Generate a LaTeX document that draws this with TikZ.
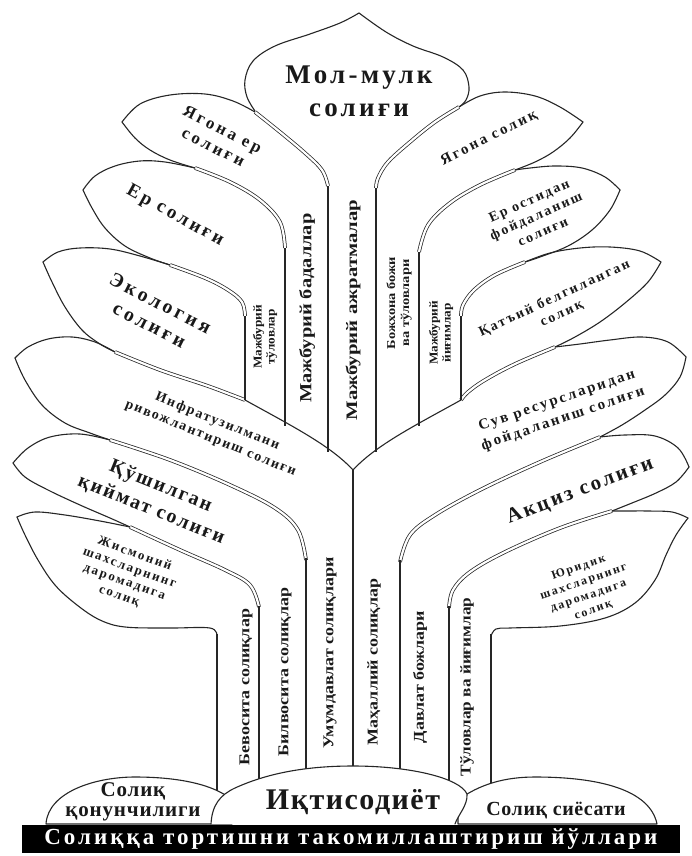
\documentclass[tikz,border=0pt]{standalone}
\usepackage{fontspec}
\setmainfont{Liberation Serif}
\begin{document}
\begin{tikzpicture}[x=1pt,y=-1pt,
  leaf/.style={line width=1.1pt, line join=round, line cap=round, black!85},
  dbl/.style={double, double distance=2.2pt, line width=0.75pt, black!85},
  col/.style={line width=1.7pt, black!85},
  lt/.style n args={3}{font=\bfseries\fontsize{#1}{#2}\selectfont\addfontfeature{LetterSpace=#3}, align=center, inner sep=0pt, black!90},
]
\useasboundingbox (0,0) rectangle (692,856);

% ---------- top leaf
\draw[leaf] plot[smooth,tension=0.6] coordinates {(255,111) (247,97) (245,80) (253,61) (275,46) (310,34) (340,23) (359,13)};
\draw[leaf] plot[smooth,tension=0.6] coordinates {(359,13) (386,32) (413,46) (443,57) (463,70) (469,87) (466,100) (459,107)};
\draw[dbl] plot[smooth,tension=0.6] coordinates {(255,112) (280,132) (305,153) (322,170) (328,186)};
\draw[dbl] plot[smooth,tension=0.6] coordinates {(459,107) (435,122) (410,142) (388,162) (378,178) (376,188)};

% ---------- left leaves
% Yagona er
\draw[leaf] plot[smooth,tension=0.6] coordinates {(255,112) (233,101) (205,94) (170,95) (140,104) (122,122)};
\draw[leaf] plot[smooth,tension=0.6] coordinates {(122,122) (135,138) (150,150) (170,160) (195,168)};
\draw[dbl] plot[smooth,tension=0.6] coordinates {(195,168) (230,182) (260,200) (280,222) (285,248)};
% Er
\draw[leaf] plot[smooth,tension=0.6] coordinates {(83,190) (95,176) (115,166) (140,161) (165,162) (195,168)};
\draw[leaf] plot[smooth,tension=0.6] coordinates {(83,190) (92,208) (105,228) (125,246) (150,258) (170,265)};
\draw[dbl] plot[smooth,tension=0.6] coordinates {(170,265) (205,278) (228,290) (242,302) (245,316)};
% Ekologiya
\draw[leaf] plot[smooth,tension=0.6] coordinates {(43,262) (58,252) (80,248) (110,249) (140,256) (170,265)};
\draw[leaf] plot[smooth,tension=0.6] coordinates {(43,262) (52,282) (65,307) (82,330) (100,344) (115,352)};
\draw[dbl] plot[smooth,tension=0.6] coordinates {(115,352) (160,370) (205,385) (232,395) (245,400)};
% Infratuzilma
\draw[leaf] plot[smooth,tension=0.6] coordinates {(15,358) (28,347) (48,339) (72,337) (95,342) (115,352)};
\draw[leaf] plot[smooth,tension=0.6] coordinates {(15,358) (25,380) (42,405) (65,423) (90,433) (110,440)};
\draw[dbl] plot[smooth,tension=0.6] coordinates {(110,440) (170,460) (230,485) (275,508) (298,530) (306,560)};
% Qushilgan
\draw[leaf] plot[smooth,tension=0.6] coordinates {(13,463) (28,448) (50,437) (80,434) (110,440)};
\draw[leaf] plot[smooth,tension=0.6] coordinates {(13,463) (25,477) (48,490) (80,505) (110,518) (130,527)};
\draw[dbl] plot[smooth,tension=0.6] coordinates {(130,527) (180,550) (225,570) (250,585) (259,607)};
% Jismoniy
\draw[leaf] plot[smooth,tension=0.6] coordinates {(17,517) (35,512) (65,515) (100,521) (130,527)};
\draw[leaf] plot[smooth,tension=0.6] coordinates {(17,517) (25,535) (38,560) (55,585) (77,605) (100,620) (125,627) (170,628) (210,628) (217,636)};

% ---------- right leaves
% Yagona soliq
\draw[leaf] plot[smooth,tension=0.6] coordinates {(459,107) (480,96) (505,92) (535,96) (560,107) (583,122)};
\draw[leaf] plot[smooth,tension=0.6] coordinates {(583,122) (570,138) (553,152) (535,162) (515,170)};
\draw[dbl] plot[smooth,tension=0.6] coordinates {(515,170) (480,185) (450,203) (428,225) (419,252)};
% Er ostidan
\draw[leaf] plot[smooth,tension=0.6] coordinates {(620,190) (605,177) (582,168) (555,166) (530,168) (515,170)};
\draw[leaf] plot[smooth,tension=0.6] coordinates {(620,190) (610,210) (592,230) (568,246) (540,257) (525,262)};
\draw[dbl] plot[smooth,tension=0.6] coordinates {(525,262) (495,275) (474,290) (463,305) (461,316)};
% Qat'iy
\draw[leaf] plot[smooth,tension=0.6] coordinates {(661,262) (640,251) (610,247) (580,248) (550,253) (525,262)};
\draw[leaf] plot[smooth,tension=0.6] coordinates {(661,262) (648,282) (625,303) (600,322) (575,337) (555,347)};
\draw[dbl] plot[smooth,tension=0.6] coordinates {(555,347) (515,364) (485,380) (468,392) (461,400)};
% Suv
\draw[leaf] plot[smooth,tension=0.6] coordinates {(686,357) (668,342) (642,337) (610,340) (580,344) (555,347)};
\draw[leaf] plot[smooth,tension=0.6] coordinates {(686,357) (680,377) (665,395) (645,410) (622,425) (600,437)};
\draw[dbl] plot[smooth,tension=0.6] coordinates {(600,437) (540,462) (480,490) (435,515) (410,535) (400,562)};
% Aksiz
\draw[leaf] plot[smooth,tension=0.6] coordinates {(689,467) (678,448) (655,436) (625,435) (600,437)};
\draw[leaf] plot[smooth,tension=0.6] coordinates {(689,467) (676,482) (656,493) (632,503) (612,511)};
\draw[dbl] plot[smooth,tension=0.6] coordinates {(612,511) (560,528) (505,552) (470,572) (453,590) (449,608)};
% Yuridik
\draw[leaf] plot[smooth,tension=0.6] coordinates {(688,518) (672,512) (648,511) (628,511) (612,511)};
\draw[leaf] plot[smooth,tension=0.6] coordinates {(688,518) (676,535) (666,555) (655,580) (635,603) (605,618) (560,626) (510,628) (496,629) (491,636)};

% ---------- V in the middle
\coordinate (apex) at (353,470);
\draw[leaf] (245,400) .. controls (290,425) and (330,445) .. (apex);
\draw[leaf] (461,400) .. controls (416,425) and (376,445) .. (apex);

% ---------- column lines
\draw[col] (245,316) -- (245,400);
\draw[col] (285,248) -- (285,426);
\draw[col] (328,186) -- (328,452);
\draw[col] (376,188) -- (376,452);
\draw[col] (419,252) -- (419,426);
\draw[col] (461,316) -- (461,400);
\draw[col] (217,634) -- (217,800);
\draw[col] (259,606) -- (259,800);
\draw[col] (306,558) -- (306,800);
\draw[col] (353,470) -- (353,800);
\draw[col] (400,560) -- (400,800);
\draw[col] (449,606) -- (449,800);
\draw[col] (491,634) -- (491,800);

% ---------- ground ellipses
\draw[leaf, fill=white] (46,824) .. controls (48,792) and (95,777) .. (135,777) .. controls (180,777) and (215,785) .. (232,800) -- (232,824) -- cycle;
\draw[leaf, fill=white] (458,800) .. controls (480,784) and (505,777) .. (535,777) .. controls (600,777) and (650,790) .. (657,824) -- (458,824) -- cycle;
\draw[leaf, fill=white] (211,824) .. controls (212,805) and (220,795) .. (235,788) .. controls (270,772) and (310,766) .. (353,766) .. controls (410,766) and (460,778) .. (467,794) .. controls (468,805) and (458,815) .. (455,824);

% ---------- texts
\node[lt={27}{33}{12}] (molmulk) at (359,91) {Мол-мулк\\солиғи};

\node[lt={17}{20}{18}, rotate=-27] (t1) at (218,138) {Ягона ер\\солиғи};
\node[lt={19}{21}{16}, rotate=-29] (t2) at (175,216) {Ер солиғи};
\node[lt={20}{24}{17}, rotate=-27] (t3) at (155,314) {Экология\\солиғи};
\node[lt={14}{18}{12}, rotate=-22] (t4) at (214,430) {Инфратузилмани\\ривожлантириш солиғи};
\node[lt={20}{25}{10}, rotate=-22] (t5) at (156,498) {Қўшилган\\қиймат солиғи};
\node[lt={13}{15}{15}, rotate=-20] (t6) at (127,575) {Жисмоний\\шахсларнинг\\даромадига\\солиқ};

\node[lt={15}{17}{16}, rotate=27] (t7) at (489,138) {Ягона солиқ};
\node[lt={14}{17}{14}, rotate=24] (t8) at (536,216) {Ер остидан\\фойдаланиш\\солиғи};
\node[lt={14}{17}{15}, rotate=25] (t9) at (558,306) {Қатъий белгиланган\\солиқ};
\node[lt={15}{19}{15}, rotate=19] (t10) at (560,410) {Сув ресурсларидан\\фойдаланиш солиғи};
\node[lt={21}{22}{12}, rotate=21] (t11) at (580,491) {Акциз солиғи};
\node[lt={12}{15}{15}, rotate=19] (t12) at (586,589) {Юридик\\шахсларнинг\\даромадига\\солиқ};

\node[lt={12}{13}{0}, rotate=90, xscale=1.1] (c1) at (265,337) {Мажбурий\\тўловлар};
\node[lt={17}{17}{0}, rotate=90, xscale=1.2] (c2) at (307,308) {Мажбурий бадаллар};
\node[lt={16}{16}{0}, rotate=90, xscale=1.3] (c3) at (353,310) {Мажбурий ажратмалар};
\node[lt={12}{14}{0}, rotate=90, xscale=1.2] (c4) at (399,303) {Божхона божи\\ва тўловлари};
\node[lt={12}{13}{0}, rotate=90, xscale=1.1] (c5) at (441,333) {Мажбурий\\йиғимлар};

\node[lt={15}{15}{0}, rotate=90, xscale=1.2] (d1) at (246,687) {Бевосита солиқлар};
\node[lt={15}{15}{0}, rotate=90, xscale=1.2] (d2) at (285,672) {Билвосита солиқлар};
\node[lt={15}{15}{0}, rotate=90, xscale=1.2] (d3) at (330,653) {Умумдавлат солиқлари};
\node[lt={15}{15}{0}, rotate=90, xscale=1.2] (d4) at (374,662) {Маҳаллий солиқлар};
\node[lt={15}{15}{0}, rotate=90, xscale=1.2] (d5) at (420,677) {Давлат божлари};
\node[lt={15}{15}{0}, rotate=90, xscale=1.15] (d6) at (467,687) {Тўловлар ва йиғимлар};

\node[lt={21}{20}{4}] (sq) at (133,802) {Солиқ\\қонунчилиги};
\node[lt={30}{30}{5}] (iq) at (353,802) {Иқтисодиёт};
\node[lt={20}{20}{3}] (ss) at (556,811) {Солиқ сиёсати};
\node[fill=black, minimum width=658pt, minimum height=28pt, inner sep=0pt,
      text=white, font=\bfseries\fontsize{23}{23}\selectfont\addfontfeature{LetterSpace=13}] (bar) at (351,839) {Солиққа тортишни такомиллаштириш йўллари};
\end{tikzpicture}
\end{document}
